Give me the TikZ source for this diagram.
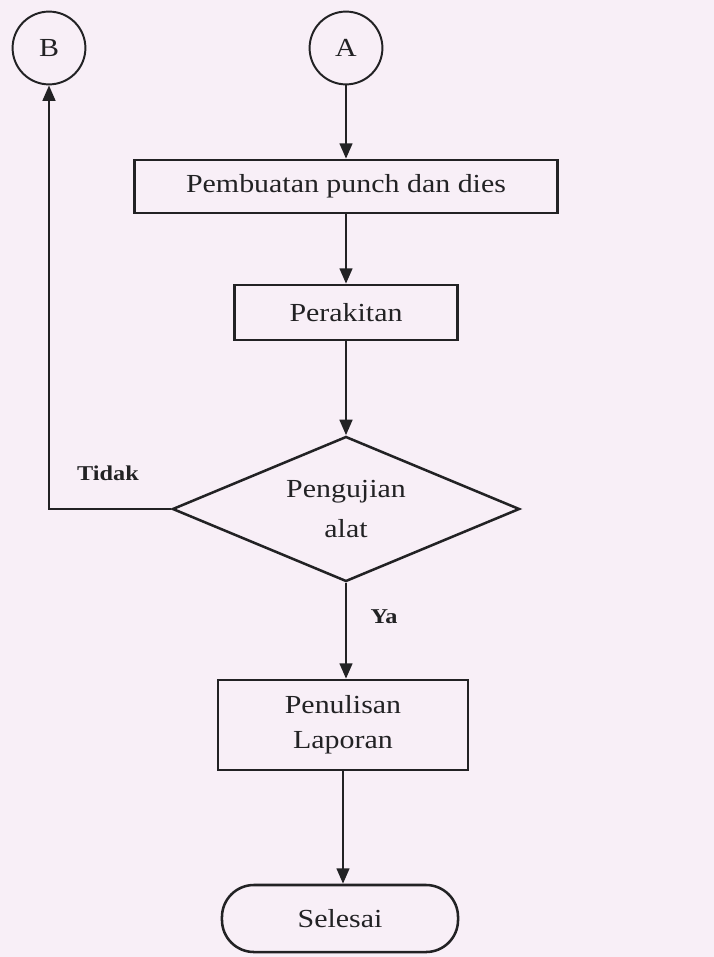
\documentclass[tikz,border=0pt]{standalone}
\usepackage{fontspec}
\setmainfont{Liberation Serif}[FakeStretch=1.15]
\usetikzlibrary{shapes.geometric,arrows.meta}
\definecolor{paper}{RGB}{248,239,247}
\definecolor{ink}{RGB}{34,34,36}

\begin{document}
\begin{tikzpicture}[x=0.025cm,y=-0.025cm,color=ink,line width=1.8pt,
  every node/.style={font=\fontsize{18.5}{22}\selectfont,text=ink},
  box/.style={draw,rectangle,inner sep=0pt},
  conn/.style={draw,circle,inner sep=0pt,minimum size=1.82cm,line width=1.4pt},
  lbl/.style={font=\fontsize{15}{18}\selectfont\bfseries},
  flow/.style={-{Triangle[length=11pt,width=9pt]}}]
  \fill[paper] (0,0) rectangle (714,957);
  \node[conn] (B) at (49,48) {B};
  \node[conn] (A) at (346,48) {A};
  \node[box,minimum width=10.575cm,minimum height=1.325cm] (buat) at (346,186.5) {Pembuatan punch dan dies};
  \node[box,minimum width=5.575cm,minimum height=1.375cm] (rakit) at (346,312.5) {Perakitan};
  \node[diamond,draw,aspect=2.39,minimum width=8.675cm,minimum height=3.625cm,inner sep=0pt,align=center] (uji) at (346,509) {Pengujian\\[6pt]alat};
  \node[box,align=center,minimum width=6.25cm,minimum height=2.25cm] (tulis) at (343,725) {Penulisan\\[3pt]Laporan};
  \node[draw,rounded corners=0.8cm,minimum width=5.9cm,minimum height=1.675cm] (selesai) at (340,918.5) {Selesai};
  \node[lbl] (tidak) at (108,473) {Tidak};
  \node[lbl] (ya) at (384,617) {Ya};
  \draw[flow] (A) -- (buat);
  \draw[flow] (buat) -- (rakit);
  \draw[flow] (rakit) -- (uji);
  \draw[flow] (uji.west) -| (B.south);
  \draw[flow] (uji.south) -- (uji.south |- tulis.north);
  \draw[flow] (tulis.south) -- (tulis.south |- selesai.north);
\end{tikzpicture}
\end{document}
